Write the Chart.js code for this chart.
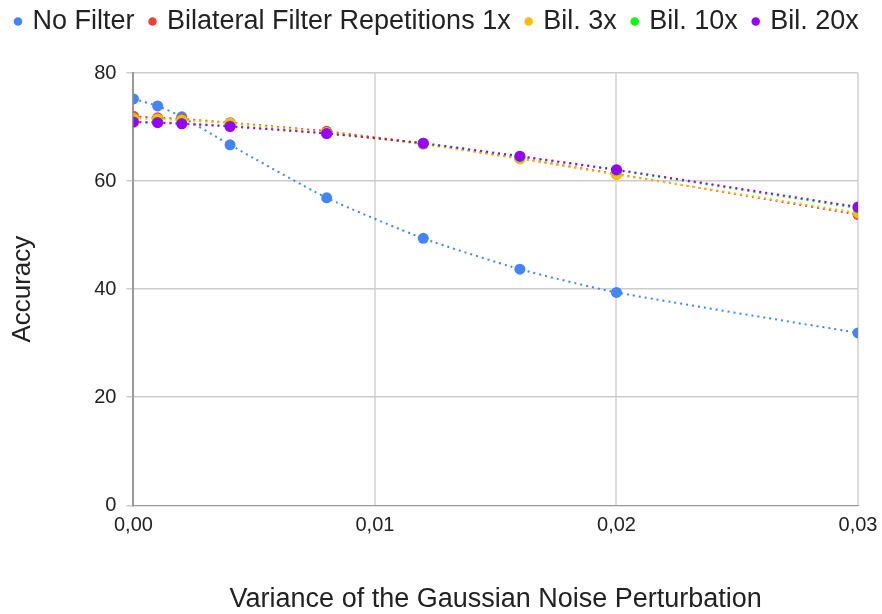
<!DOCTYPE html>
<html>
<head>
<meta charset="utf-8">
<script src="https://cdn.jsdelivr.net/npm/chart.js@4/dist/chart.umd.min.js"></script>
<style>
  html, body { margin: 0; padding: 0; background: #fff; }
  #wrap { width: 882px; height: 614px; }
</style>
</head>
<body>
<div id="wrap"><canvas id="chart" width="882" height="614"></canvas></div>
<script>
// noise variance (x) and accuracy per filter setting
const noiseVariance = [0, 0.001, 0.002, 0.004, 0.008, 0.012, 0.016, 0.02, 0.03];
const noFilter = [75.2, 73.9, 71.9, 66.7, 56.9, 49.4, 43.7, 39.4, 31.9];
const bil1x = [72.0, 71.7, 71.5, 70.8, 69.2, 66.9, 64.2, 61.3, 53.8];
const bil3x = [71.6, 71.5, 71.3, 70.7, 69.0, 66.8, 64.1, 61.2, 54.1];
const bil10x = [71.0, 70.9, 70.7, 70.2, 68.8, 67.0, 64.5, 62.0, 55.0];
const bil20x = [70.9, 70.8, 70.6, 70.1, 68.8, 67.0, 64.6, 62.1, 55.2];
const xTicks = [0, 0.01, 0.02, 0.03];
const yTicks = [0, 20, 40, 60, 80];

const seriesNames = ["No Filter", "Bilateral Filter Repetitions 1x", "Bil. 3x", "Bil. 10x", "Bil. 20x"];
const seriesValues = [noFilter, bil1x, bil3x, bil10x, bil20x];
const seriesColors = ["#4285F4", "#EA4335", "#FBBC04", "#00FF00", "#9900FF"];

const font = "'Liberation Sans', Arial, sans-serif";

const datasets = seriesNames.map((name, i) => ({
  label: name,
  data: noiseVariance.map((x, j) => ({ x: x, y: seriesValues[i][j] })),
  showLine: true,
  borderColor: seriesColors[i],
  backgroundColor: seriesColors[i],
  borderWidth: 2,
  borderDash: [2, 4],
  tension: 0.2,
  pointRadius: 5.5,
  pointHoverRadius: 5.5,
  pointBorderWidth: 0,
  order: seriesNames.length - i
}));

// fixed legend height so the plot area lands where it should
const legendHeight = {
  id: "legendHeight",
  beforeInit(chart) {
    const legend = chart.legend;
    const fit = legend.fit;
    legend.fit = function () {
      fit.call(legend);
      legend.height = 82;
    };
  }
};

new Chart(document.getElementById("chart"), {
  type: "scatter",
  data: { datasets: datasets },
  plugins: [legendHeight],
  options: {
    responsive: false,
    animation: false,
    layout: { padding: { left: 0, right: 0, top: -9, bottom: 0 } },
    plugins: {
      tooltip: { enabled: false },
      legend: {
        position: "top",
        align: "start",
        labels: {
          usePointStyle: true,
          pointStyle: "circle",
          boxHeight: 6,
          boxWidth: 2,
          padding: 17,
          color: "#222",
          font: { family: font, size: 27 },
          sort: (a, b) => a.datasetIndex - b.datasetIndex
        }
      }
    },
    scales: {
      x: {
        type: "linear",
        min: 0,
        max: 0.03,
        afterBuildTicks: axis => { axis.ticks = xTicks.map(v => ({ value: v })); },
        afterFit: axis => { axis.paddingRight = 24; },
        ticks: {
          color: "#222",
          font: { family: font, size: 20 },
          padding: 8,
          callback: v => v.toFixed(2).replace(".", ",")
        },
        grid: { color: "#dddddd", lineWidth: 2, drawTicks: false },
        border: { color: "#999999", width: 1 },
        title: {
          display: true,
          text: "Variance of the Gaussian Noise Perturbation",
          color: "#222",
          font: { family: font, size: 27, lineHeight: 1.1 },
          padding: { top: 39, bottom: 0 }
        }
      },
      y: {
        min: 0,
        max: 80,
        afterBuildTicks: axis => { axis.ticks = yTicks.map(v => ({ value: v })); },
        ticks: {
          color: "#222",
          font: { family: font, size: 20 },
          padding: 10
        },
        grid: { color: "#cccccc", lineWidth: 1.5, tickLength: 7 },
        border: { color: "#999999", width: 2 },
        title: {
          display: true,
          text: "Accuracy",
          color: "#222",
          font: { family: font, size: 26 },
          padding: { top: 7, bottom: 46 }
        }
      }
    }
  }
});
</script>
</body>
</html>
